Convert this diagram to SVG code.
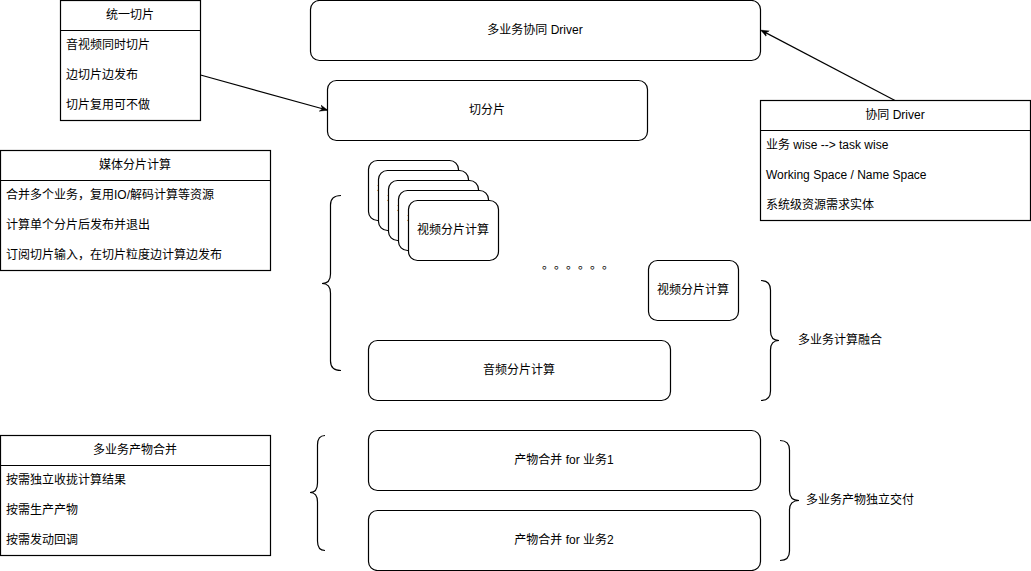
<svg xmlns="http://www.w3.org/2000/svg" width="1031" height="571" viewBox="0 0 1031 571">
<defs>
<style>
.n{fill:#fff;stroke:#000;stroke-width:1.2}
.t{font-family:"Liberation Sans","Noto Sans CJK SC",sans-serif;font-size:12px;fill:#000}
.c{text-anchor:middle;dominant-baseline:central}
.l{dominant-baseline:central}
.b{fill:none;stroke:#000;stroke-width:1.2}
.e{fill:none;stroke:#000;stroke-width:1.2}
</style>
<marker id="ah" viewBox="0 0 10 10" refX="9" refY="5" markerWidth="8" markerHeight="8" orient="auto" markerUnits="userSpaceOnUse">
<path d="M0,1 L10,5 L0,9 L3,5 Z" fill="#000" stroke="#000" stroke-width="0.5"/>
</marker>
</defs>
<rect width="1031" height="571" fill="#fff"/>

<g id="driver">
<rect class="n" x="310.5" y="0.5" width="450" height="60" rx="9"/>
<text class="t c" x="535" y="30">多业务协同 Driver</text>
</g>

<g id="split">
<rect class="n" x="327.5" y="80.5" width="320" height="60" rx="9"/>
<text class="t c" x="487" y="110">切分片</text>
</g>

<g id="unified-split">
<rect class="n" x="60.5" y="0.5" width="140" height="120"/>
<line class="b" x1="60.5" y1="30.5" x2="200.5" y2="30.5"/>
<text class="t c" x="130" y="15">统一切片</text>
<text class="t l" x="66" y="45">音视频同时切片</text>
<text class="t l" x="66" y="75">边切片边发布</text>
<text class="t l" x="66" y="105">切片复用可不做</text>
</g>

<g id="coop-driver">
<rect class="n" x="760.5" y="100.5" width="270" height="120"/>
<line class="b" x1="760.5" y1="130.5" x2="1030.5" y2="130.5"/>
<text class="t c" x="895" y="115">协同 Driver</text>
<text class="t l" x="766" y="145">业务 wise --&gt; task wise</text>
<text class="t l" x="766" y="175">Working Space / Name Space</text>
<text class="t l" x="766" y="205">系统级资源需求实体</text>
</g>

<g id="media-compute">
<rect class="n" x="0.5" y="150.5" width="270" height="120"/>
<line class="b" x1="0.5" y1="180.5" x2="270.5" y2="180.5"/>
<text class="t c" x="135" y="165">媒体分片计算</text>
<text class="t l" x="6" y="195">合并多个业务，复用IO/解码计算等资源</text>
<text class="t l" x="6" y="225">计算单个分片后发布并退出</text>
<text class="t l" x="6" y="255">订阅切片输入，在切片粒度边计算边发布</text>
</g>

<g id="video-stack">
<rect class="n" x="368.5" y="160.5" width="90" height="60" rx="9"/>
<text class="t c" x="413" y="190">视频分片计算</text>
<rect class="n" x="378.5" y="170.5" width="90" height="60" rx="9"/>
<text class="t c" x="423" y="200">视频分片计算</text>
<rect class="n" x="388.5" y="180.5" width="90" height="60" rx="9"/>
<text class="t c" x="433" y="210">视频分片计算</text>
<rect class="n" x="398.5" y="190.5" width="90" height="60" rx="9"/>
<text class="t c" x="443" y="220">视频分片计算</text>
<rect class="n" x="408.5" y="200.5" width="90" height="60" rx="9"/>
<text class="t c" x="453" y="230">视频分片计算</text>
</g>

<g id="dots">
<text class="t l" x="542 554 566 578 590 602" y="265">。。。。。。</text>
</g>

<g id="video-single">
<rect class="n" x="648.5" y="260.5" width="90" height="60" rx="9"/>
<text class="t c" x="693" y="290">视频分片计算</text>
</g>

<g id="audio">
<rect class="n" x="368.5" y="340.5" width="302" height="60" rx="9"/>
<text class="t c" x="519" y="370">音频分片计算</text>
</g>

<g id="product-merge">
<rect class="n" x="0.5" y="435.5" width="270" height="120"/>
<line class="b" x1="0.5" y1="465.5" x2="270.5" y2="465.5"/>
<text class="t c" x="135" y="450">多业务产物合并</text>
<text class="t l" x="6" y="480">按需独立收拢计算结果</text>
<text class="t l" x="6" y="510">按需生产产物</text>
<text class="t l" x="6" y="540">按需发动回调</text>
</g>

<g id="merge1">
<rect class="n" x="368.5" y="430.5" width="392" height="60" rx="9"/>
<text class="t c" x="564" y="460">产物合并 for 业务1</text>
</g>

<g id="merge2">
<rect class="n" x="368.5" y="510.5" width="392" height="60" rx="9"/>
<text class="t c" x="564" y="540">产物合并 for 业务2</text>
</g>

<g id="brace-labels">
<text class="t l" x="798" y="340">多业务计算融合</text>
<text class="t l" x="806" y="500">多业务产物独立交付</text>
</g>

<g id="braces">
<path class="b" d="M341,195.5 Q330.5,195.5 330.5,205 L330.5,274 Q330.5,283.5 322,283.5 Q330.5,283.5 330.5,293 L330.5,361 Q330.5,370.5 341,370.5"/>
<path class="b" d="M761,280.5 Q770.5,280.5 770.5,290 L770.5,331 Q770.5,340.5 779,340.5 Q770.5,340.5 770.5,350 L770.5,391 Q770.5,400.5 761,400.5"/>
<path class="b" d="M325,435.5 Q317.5,435.5 317.5,445 L317.5,483 Q317.5,492.5 310,492.5 Q317.5,492.5 317.5,502 L317.5,541 Q317.5,550.5 325,550.5"/>
<path class="b" d="M780,440.5 Q789.5,440.5 789.5,450 L789.5,491 Q789.5,500.5 799,500.5 Q789.5,500.5 789.5,510 L789.5,551 Q789.5,560.5 780,560.5"/>
</g>

<g id="connectors">
<line class="e" x1="200.5" y1="75" x2="327" y2="110" marker-end="url(#ah)"/>
<line class="e" x1="895" y1="100.5" x2="761.5" y2="30.5" marker-end="url(#ah)"/>
</g>
</svg>
